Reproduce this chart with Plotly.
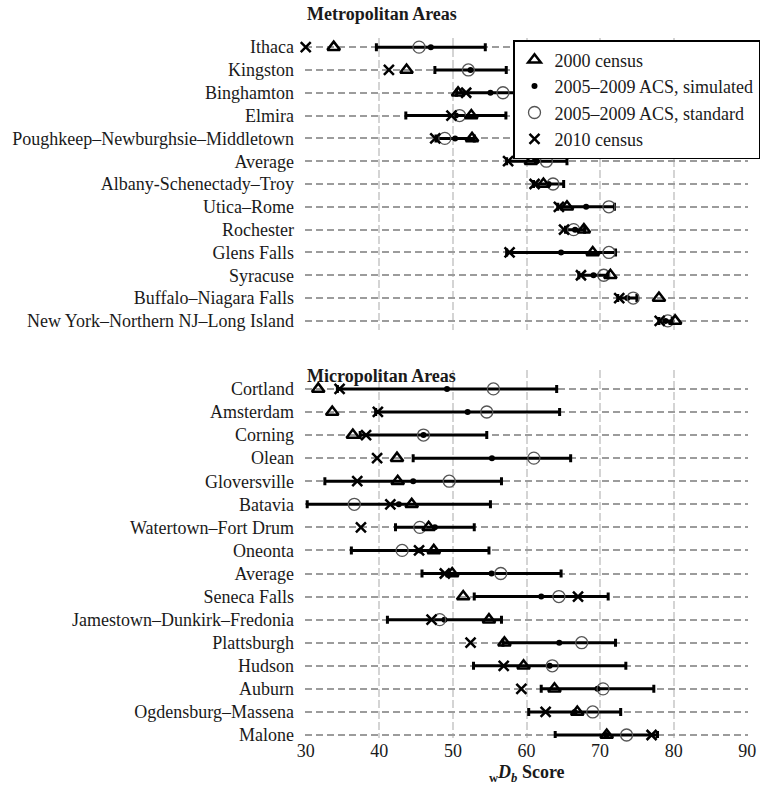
import plotly.graph_objects as go

# ---- Metropolitan areas ----
metro_labels = [
    "Ithaca", "Kingston", "Binghamton", "Elmira",
    "Poughkeep–Newburghsie–Middletown", "Average", "Albany-Schenectady–Troy",
    "Utica–Rome", "Rochester", "Glens Falls", "Syracuse",
    "Buffalo–Niagara Falls", "New York–Northern NJ–Long Island",
]
metro_2000 = [33.8, 43.7, 50.7, 52.5, 52.6, 60.6, 62.3, 65.5, 67.8, 69.0, 71.4, 78.0, 80.2]
metro_sim = [47.0, 52.4, 55.1, 50.4, 50.3, 61.4, 63.0, 68.1, 66.6, 64.7, 69.1, 73.7, 78.9]
metro_sim_moe = [7.4, 4.85, 4.6, 6.8, 2.6, 4.1, 2.05, 3.85, 1.3, 7.4, 2.0, 1.3, 0.9]
metro_std = [45.4, 52.1, 56.8, 50.9, 48.9, 62.7, 63.6, 71.2, 66.4, 71.2, 70.5, 74.5, 79.2]
metro_2010 = [30.0, 41.3, 51.8, 49.8, 47.6, 57.5, 61.1, 64.4, 65.1, 57.7, 67.4, 72.6, 78.1]

# ---- Micropolitan areas ----
micro_labels = [
    "Cortland", "Amsterdam", "Corning", "Olean", "Gloversville", "Batavia",
    "Watertown–Fort Drum", "Oneonta", "Average", "Seneca Falls",
    "Jamestown–Dunkirk–Fredonia", "Plattsburgh", "Hudson", "Auburn",
    "Ogdensburg–Massena", "Malone",
]
micro_2000 = [31.7, 33.6, 36.4, 42.4, 42.5, 44.4, 46.7, 47.4, 49.9, 51.4, 54.9, 57.0, 59.6, 63.8, 66.9, 70.9]
micro_sim = [49.2, 52.0, 46.0, 55.3, 44.6, 42.65, 47.55, 45.55, 55.25, 62.0, 48.85, 64.45, 63.15, 69.65, 66.55, 70.85]
micro_sim_moe = [14.9, 12.5, 8.6, 10.7, 12.0, 12.45, 5.35, 9.35, 9.45, 9.1, 7.75, 7.65, 10.35, 7.65, 6.25, 6.95]
micro_std = [55.5, 54.6, 46.0, 61.0, 49.5, 36.6, 45.5, 43.1, 56.5, 64.4, 48.2, 67.5, 63.5, 70.4, 69.0, 73.6]
micro_2010 = [34.6, 39.8, 38.2, 39.7, 37.0, 41.5, 37.5, 45.4, 48.9, 67.0, 47.1, 52.4, 56.9, 59.3, 62.6, 77.0]

x_ticks = [30, 40, 50, 60, 70, 80, 90]

FONT = "Liberation Serif"
W, H = 760, 785
ML, MR, MT, MB = 305, 12, 30, 45
PLOT_H = H - MT - MB
PLOT_W = W - ML - MR


def py(px):
    """Convert a pixel row (from top) to paper y."""
    return (H - MB - px) / PLOT_H


def pxx(px):
    """Convert a pixel column to paper x."""
    return (px - ML) / PLOT_W


fig = go.Figure()


def add_panel(xa, ya, labels, c2000, sim, moe, std, c2010, show):
    rows = list(range(len(labels)))
    # interval around the simulated ACS estimate
    fig.add_trace(go.Scatter(
        x=sim, y=rows, xaxis=xa, yaxis=ya, mode="markers",
        marker=dict(size=1, color="rgba(0,0,0,0)"),
        error_x=dict(type="data", array=moe, symmetric=True,
                     color="black", thickness=3, width=4),
        showlegend=False, hoverinfo="skip", cliponaxis=False))
    fig.add_trace(go.Scatter(
        x=sim, y=rows, xaxis=xa, yaxis=ya, mode="markers",
        name="2005–2009 ACS, simulated", legendgroup="sim", legendrank=2,
        marker=dict(symbol="circle", size=6, color="black"),
        showlegend=show, cliponaxis=False))
    fig.add_trace(go.Scatter(
        x=std, y=rows, xaxis=xa, yaxis=ya, mode="markers",
        name="2005–2009 ACS, standard", legendgroup="std", legendrank=3,
        marker=dict(symbol="circle-open", size=12, color="#555555",
                    line=dict(width=1.3, color="#555555")),
        showlegend=show, cliponaxis=False))
    fig.add_trace(go.Scatter(
        x=c2000, y=rows, xaxis=xa, yaxis=ya, mode="markers",
        name="2000 census", legendgroup="c2000", legendrank=1,
        marker=dict(symbol="triangle-up-open", size=11, color="black",
                    line=dict(width=2.5, color="black")),
        showlegend=show, cliponaxis=False))
    fig.add_trace(go.Scatter(
        x=c2010, y=rows, xaxis=xa, yaxis=ya, mode="markers",
        name="2010 census", legendgroup="c2010", legendrank=4,
        marker=dict(symbol="x-thin-open", size=10, color="black",
                    line=dict(width=2.5, color="black")),
        showlegend=show, cliponaxis=False))


add_panel("x", "y", metro_labels, metro_2000, metro_sim, metro_sim_moe,
          metro_std, metro_2010, True)
add_panel("x2", "y2", micro_labels, micro_2000, micro_sim, micro_sim_moe,
          micro_std, micro_2010, False)

xgrid = dict(range=[29.9, 90.1], tickvals=x_ticks, showgrid=True,
             gridcolor="#d4d4d4", gridwidth=2, griddash="8px,3px",
             zeroline=False, showline=False, ticks="", domain=[0, 1])
ygrid = dict(showgrid=True, gridcolor="#9c9c9c", gridwidth=2,
             griddash="7px,4px", zeroline=False, showline=False, ticks="",
             ticklabelstandoff=10,
             tickfont=dict(family=FONT, size=18, color="#1a1a1a"))

n_top = len(metro_labels)
n_bot = len(micro_labels)

fig.update_layout(
    width=W, height=H, autosize=False,
    margin=dict(l=ML, r=MR, t=MT, b=MB, autoexpand=False),
    plot_bgcolor="white", paper_bgcolor="white",
    font=dict(family=FONT, size=18, color="#1a1a1a"),
    xaxis=dict(**xgrid, anchor="y", showticklabels=False),
    yaxis=dict(**ygrid, anchor="x", domain=[py(330), py(38)],
               tickvals=list(range(n_top)), ticktext=metro_labels,
               range=[n_top - 1 + 0.4, -0.4]),
    xaxis2=dict(**xgrid, anchor="y2", showticklabels=True,
                tickfont=dict(family=FONT, size=18, color="#1a1a1a")),
    yaxis2=dict(**ygrid, anchor="x2", domain=[py(738), py(370)],
                tickvals=list(range(n_bot)), ticktext=micro_labels,
                range=[n_bot - 1 + 0.13, -0.82]),
    legend=dict(x=pxx(513), y=py(40), xanchor="left", yanchor="top",
                bgcolor="white", bordercolor="black", borderwidth=1.5,
                font=dict(family=FONT, size=18, color="#1a1a1a"),
                tracegroupgap=0, itemclick=False),
    showlegend=True,
    annotations=[
        dict(text="<b>Metropolitan Areas</b>", xref="paper", yref="paper",
             x=0, y=py(14), xanchor="left", yanchor="middle", showarrow=False,
             font=dict(family=FONT, size=18, color="#1a1a1a")),
        dict(text="<b>Micropolitan Areas</b>", xref="paper", yref="paper",
             x=0, y=py(376), xanchor="left", yanchor="middle", showarrow=False,
             font=dict(family=FONT, size=18, color="#1a1a1a")),
        dict(text="<b><sub>w</sub><i>D</i><sub><i>b</i></sub> Score</b>",
             xref="paper", yref="paper", x=0.5, y=py(773),
             xanchor="center", yanchor="middle", showarrow=False,
             font=dict(family=FONT, size=18, color="#1a1a1a")),
    ],
)

fig.write_html("out.html")
